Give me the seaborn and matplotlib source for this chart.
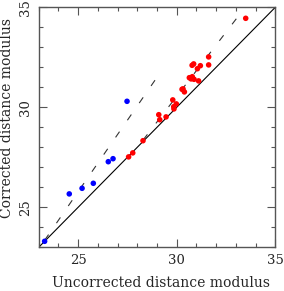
import numpy as np
import pandas as pd
import seaborn as sns
import matplotlib
matplotlib.use("Agg")
import matplotlib.pyplot as plt
from matplotlib.ticker import MultipleLocator

# blue points (uncorrected, corrected)
blue_x = [23.3, 24.55, 25.2, 25.77, 26.53, 26.77, 27.48]
blue_y = [23.3, 25.67, 25.95, 26.2, 27.28, 27.43, 30.3]

# red points
red_x = [27.56, 27.77, 28.29, 29.09, 29.14, 29.46, 29.80, 29.85, 29.86, 29.98,
         30.27, 30.32, 30.39, 30.64, 30.73, 30.79, 30.88, 30.78, 30.86, 31.05,
         31.11, 31.2, 31.62, 31.62, 33.5]
red_y = [27.52, 27.72, 28.33, 29.63, 29.38, 29.52, 30.37, 30.03, 29.92, 30.17,
         30.9, 30.92, 30.77, 31.48, 31.42, 31.53, 31.4, 32.1, 32.17, 31.93,
         31.32, 32.08, 32.52, 32.12, 34.45]

# reference lines
one_to_one = [23, 35]
dash_a_x = [23.3, 29.0]
dash_a_y = [23.35, 31.5]
dash_b_x = [28.3, 33.47]
dash_b_y = [28.37, 35.0]

df = pd.DataFrame({
    "x": blue_x + red_x,
    "y": blue_y + red_y,
    "grp": ["blue"] * len(blue_x) + ["red"] * len(red_x),
})

sns.set_style("ticks")
plt.rcParams["font.family"] = ["DejaVu Serif"]

fig = plt.figure(figsize=(2.84, 2.91), dpi=100)
ax = fig.add_axes([0.1363, 0.1502, 0.833, 0.8247])

ax.plot(one_to_one, one_to_one, color="black", lw=0.8)
lw = 0.8
ax.plot(dash_a_x, dash_a_y, color="#333333", lw=lw, dashes=(5 / lw, 10 / lw))
ax.plot(dash_b_x, dash_b_y, color="#333333", lw=lw, dashes=(5 / lw, 10 / lw))

sns.scatterplot(data=df, x="x", y="y", hue="grp",
                palette={"blue": "#0000ff", "red": "#ff0000"},
                s=16, linewidth=0, legend=False, ax=ax, zorder=3)

ax.set_xlim(23, 35)
ax.set_ylim(23, 35)
ax.xaxis.set_major_locator(MultipleLocator(5))
ax.yaxis.set_major_locator(MultipleLocator(5))
ax.xaxis.set_minor_locator(MultipleLocator(1))
ax.yaxis.set_minor_locator(MultipleLocator(1))
ax.tick_params(which="both", direction="in", top=True, right=True,
               color="#555555", width=0.8)
ax.tick_params(which="major", length=6, labelsize=9.5, pad=5)
ax.tick_params(which="minor", length=3)
for lab in ax.get_yticklabels():
    lab.set_rotation(90)
    lab.set_va("center")
for sp in ax.spines.values():
    sp.set_color("#555555")
    sp.set_linewidth(1.0)

ax.set_xlabel("Uncorrected distance modulus", fontsize=10, va="center")
ax.set_ylabel("Corrected distance modulus", fontsize=10, va="center")
ax.xaxis.set_label_coords(0.515, -0.15)
ax.yaxis.set_label_coords(-0.135, 0.54)

fig.savefig("out.png", dpi=100)
